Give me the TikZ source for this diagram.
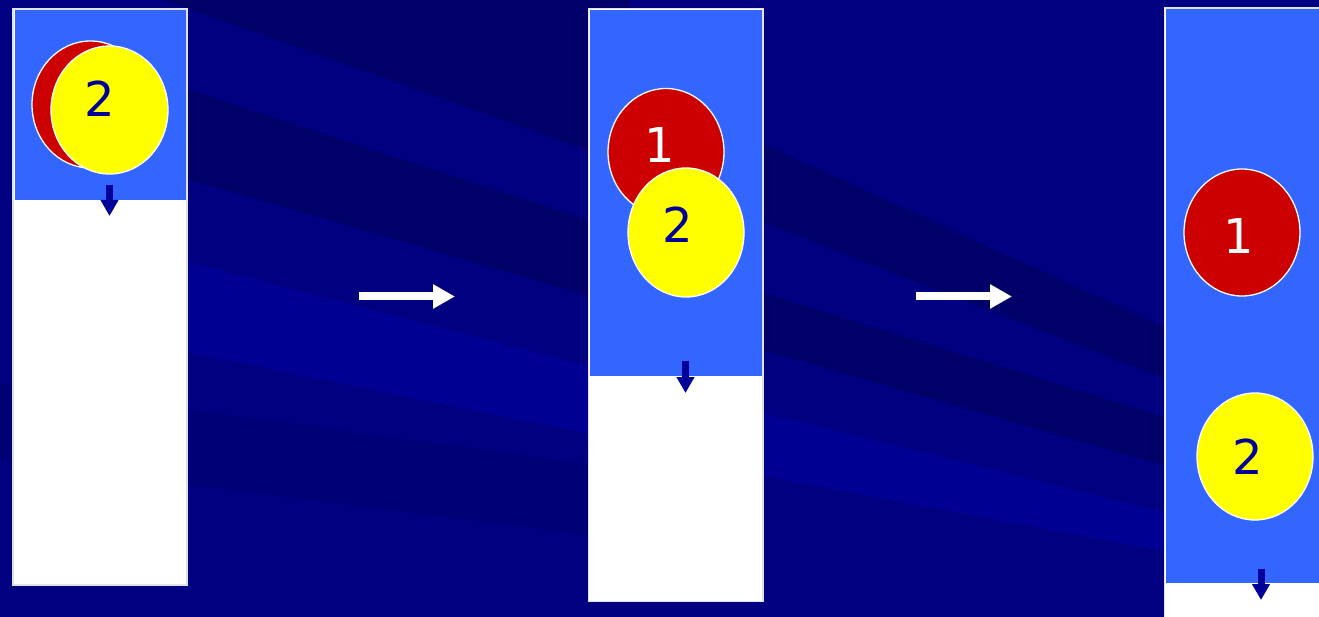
\documentclass[tikz,border=0pt]{standalone}
\usepackage{fontspec}
\setmainfont{DejaVu Sans}
\usetikzlibrary{shapes.geometric,arrows.meta}
\definecolor{bgnavy}{RGB}{0,0,128}
\definecolor{bgdark}{RGB}{0,0,104}
\definecolor{bglight}{RGB}{0,0,146}
\definecolor{boxblue}{RGB}{51,102,255}
\definecolor{ballred}{RGB}{204,0,0}
\definecolor{ballyellow}{RGB}{255,255,0}
\definecolor{arrowblue}{RGB}{0,0,153}
\definecolor{edgegray}{RGB}{225,225,240}
\tikzset{
  colbox/.style={fill=white, draw=edgegray, line width=1.5pt},
  fillbox/.style={fill=boxblue},
  ball/.style={ellipse, draw=white, line width=1.3pt, inner sep=0pt},
  redball/.style={ball, fill=ballred},
  yelball/.style={ball, fill=ballyellow},
  numtxt/.style={inner sep=0pt, font=\fontsize{48}{58}\selectfont},
  downarrow/.style={draw=arrowblue, line width=7pt, -{Triangle[length=16pt,width=17pt]}},
  steparrow/.style={draw=white, line width=8pt, -{Triangle[length=22pt,width=23pt]}}
}
\begin{document}
\begin{tikzpicture}[x=1pt,y=-1pt]
\useasboundingbox (0,0) rectangle (1319,617);
\clip (0,0) rectangle (1319,617);
% background
\fill[bgnavy] (0,0) rectangle (1319,617);
% zone 1 bands
\fill[bgdark] (150,0) -- (630,0) -- (630,165) -- (164,0) -- cycle;
\fill[bgdark] (150,77) -- (630,234) -- (630,307.5) -- (150,168) -- cycle;
\fill[bglight] (150,252) -- (630,377) -- (630,442) -- (150,344.5) -- cycle;
\fill[bgdark!40!bgnavy] (0,384) -- (630,470) -- (630,540) -- (0,460) -- cycle;
% zone 2 bands
\fill[bgdark] (740,133.5) -- (1190,339) -- (1190,388.5) -- (740,213) -- cycle;
\fill[bgdark] (740,286) -- (1190,425) -- (1190,472.8) -- (740,343.4) -- cycle;
\fill[bglight] (740,407.3) -- (1190,518.7) -- (1190,556) -- (740,471.7) -- cycle;

% column 1
\draw[colbox] (13,9) rectangle (187,585);
\fill[fillbox] (14.5,10) rectangle (185.5,200);
\node[redball, minimum width=117pt, minimum height=127pt] (r1) at (90.5,104.5) {};
\node[yelball, minimum width=117pt, minimum height=128pt] (y1) at (109.5,110) {};
\node[numtxt, text=arrowblue] (t1b) at (100,99) {2};
\coordinate (d1s) at (109.5,185);
\coordinate (d1e) at (109.5,216);
\draw[downarrow] (d1s) -- (d1e);

% column 2
\draw[colbox] (588.5,8.5) rectangle (763,601.5);
\fill[fillbox] (590,10) rectangle (761.5,376);
\node[redball, minimum width=116pt, minimum height=127pt] (r2) at (666,152) {};
\node[numtxt, text=white] (t2a) at (660,145) {1};
\node[yelball, minimum width=116pt, minimum height=129pt] (y2) at (686,232.5) {};
\node[numtxt, text=arrowblue] (t2b) at (678,225) {2};
\coordinate (d2s) at (685.5,361);
\coordinate (d2e) at (685.5,393);
\draw[downarrow] (d2s) -- (d2e);

% column 3
\draw[colbox] (1164.5,8) rectangle (1330,630);
\fill[fillbox] (1166,9.5) rectangle (1325,583);
\node[redball, minimum width=116pt, minimum height=127pt] (r3) at (1242,232.5) {};
\node[numtxt, text=white] (t3a) at (1239,236) {1};
\node[yelball, minimum width=116pt, minimum height=127pt] (y3) at (1255,456.5) {};
\node[numtxt, text=arrowblue] (t3b) at (1248,457) {2};
\coordinate (d3s) at (1261,569);
\coordinate (d3e) at (1261,600);
\draw[downarrow] (d3s) -- (d3e);

% step arrows
\coordinate (a1s) at (359,296.5);
\coordinate (a1e) at (455,296.5);
\draw[steparrow] (a1s) -- (a1e);
\coordinate (a2s) at (916,296.5);
\coordinate (a2e) at (1012,296.5);
\draw[steparrow] (a2s) -- (a2e);
\end{tikzpicture}
\end{document}
